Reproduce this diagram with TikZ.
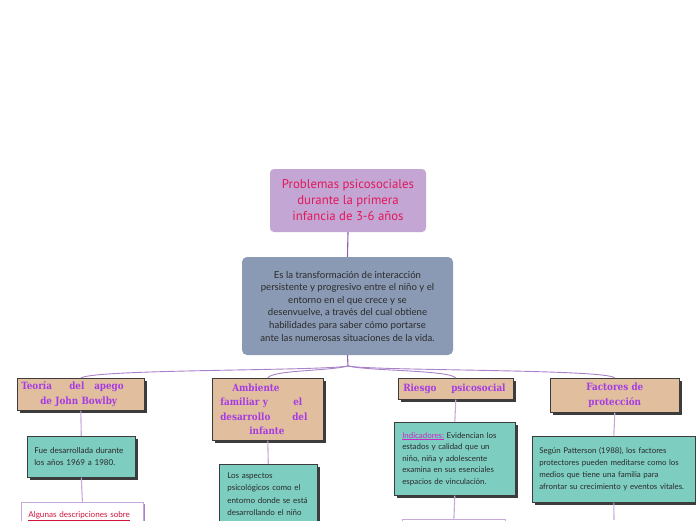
\documentclass[tikz,border=0pt]{standalone}
\usepackage{fontspec}
\setmainfont{Lato}
\newfontfamily\titlefont{PT Sans}
\newfontfamily\headfont[FakeStretch=0.88]{DejaVu Serif}
\usetikzlibrary{shadows}
\definecolor{titlefill}{HTML}{C3A6D3}
\definecolor{titletext}{HTML}{E2175C}
\definecolor{centralfill}{HTML}{8A9AB4}
\definecolor{textdark}{HTML}{2A2A2A}
\definecolor{headfill}{HTML}{E0BE9E}
\definecolor{headtext}{HTML}{A63BE3}
\definecolor{greenfill}{HTML}{7DCDC0}
\definecolor{shadowc}{HTML}{3C3C3C}
\definecolor{topline}{HTML}{9060B8}
\definecolor{curveline}{HTML}{A982CA}
\definecolor{lilacline}{HTML}{C7A8DA}
\definecolor{redtext}{HTML}{D0143C}
\definecolor{magtext}{HTML}{C62BC8}
\begin{document}
\begin{tikzpicture}[x=1pt,y=-1pt,
  titlebox/.style={rounded corners=4pt, fill=titlefill, minimum width=156pt, minimum height=63pt,
    align=center, text=titletext, font=\titlefont\fontsize{12.8}{16}\selectfont},
  centralbox/.style={rounded corners=5pt, fill=centralfill, minimum width=211pt, minimum height=98pt,
    align=center, text=textdark, font=\fontsize{9.6}{12.6}\selectfont},
  headbox/.style={anchor=north west, draw=shadowc, line width=0.6pt, fill=headfill,
    drop shadow={shadow xshift=2.5pt, shadow yshift=-2.5pt, fill=shadowc, opacity=1},
    text=headtext, font=\headfont\bfseries\fontsize{10}{14.5}\selectfont, inner ysep=0pt},
  greenbox/.style={anchor=north west, draw=shadowc, line width=0.6pt, fill=greenfill,
    drop shadow={shadow xshift=2.5pt, shadow yshift=-2.5pt, fill=shadowc, opacity=1},
    text=textdark, align=left, inner ysep=0pt},
  whitebox/.style={anchor=north west, draw=lilacline, line width=0.8pt, fill=white,
    drop shadow={shadow xshift=1.5pt, shadow yshift=-1.5pt, fill=curveline, opacity=1}},
  topconn/.style={draw=topline, line width=1.1pt},
  curveconn/.style={draw=curveline, line width=0.9pt},
  vconn/.style={draw=lilacline, line width=1.1pt}
]
\useasboundingbox (0,0) rectangle (696,520);
\clip (0,0) rectangle (696,520);
\fill[white] (0,0) rectangle (696,520);

% title and central
\node[titlebox] (title) at (348,200.5) {Problemas psicosociales\\durante la primera\\infancia de 3-6 años};
\node[centralbox] (central) at (347.5,306) {Es la transformación de interacción\\persistente y progresivo entre el niño y el\\entorno en el que crece y se\\desenvuelve, a través del cual obtiene\\habilidades para saber cómo portarse\\ante las numerosas situaciones de la vida.};
\coordinate (J) at (348,366);

% headers
\node[headbox, minimum width=127pt, minimum height=32pt, text width=119pt, inner xsep=4pt, align=left] (h1) at (17,378)
  {\makebox[48pt][l]{Teoría}\makebox[25pt][l]{del}apego\\\hspace*{19pt}de John Bowlby};
\node[headbox, minimum width=111pt, minimum height=62pt, text width=95pt, inner xsep=8pt, align=left] (h2) at (212,378)
  {\hspace*{12pt}Ambiente\\\makebox[73pt][l]{familiar y}el\\\makebox[72pt][l]{desarrollo}del\\\hspace*{29pt}infante};
\node[headbox, minimum width=115pt, minimum height=21pt, text width=105pt, inner xsep=5pt, align=left] (h3) at (398,378)
  {\makebox[48pt][l]{Riesgo}psicosocial};
\node[headbox, minimum width=129pt, minimum height=34pt, text width=121pt, inner xsep=4pt, align=center] (h4) at (550,378)
  {Factores de\\protección};

% green boxes
\node[greenbox, minimum width=108pt, minimum height=41pt, text width=94pt, inner xsep=7pt,
  font=\fontsize{8.1}{12}\selectfont] (g1) at (27,436)
  {Fue desarrollada durante\\los años 1969 a 1980.};
\node[greenbox, minimum width=98pt, text width=86pt, inner xsep=6pt, inner ysep=8pt,
  font=\fontsize{8}{12.6}\selectfont] (g2) at (219,464)
  {\hspace*{2pt}Los aspectos\\\hspace*{2pt}psicológicos como el\\\hspace*{2pt}entorno donde se está\\\hspace*{2pt}desarrollando el niño};
\node[greenbox, minimum width=121pt, minimum height=73pt, text width=107pt, inner xsep=7pt,
  font=\fontsize{7.9}{11.5}\selectfont] (g3) at (394,422)
  {\hspace*{1pt}{\color{magtext}\underline{Indicadores:}} Evidencian los\\\hspace*{1pt}estados y calidad que un\\\hspace*{1pt}niño, niña y adolescente\\\hspace*{1pt}examina en sus esenciales\\\hspace*{1pt}espacios de vinculación.};
\node[greenbox, minimum width=163pt, minimum height=66pt, text width=151pt, inner xsep=6pt,
  font=\fontsize{7.9}{12}\selectfont] (g4) at (532,436)
  {\hspace*{1pt}Según Patterson (1988), los factores\\\hspace*{1pt}protectores pueden meditarse como los\\\hspace*{1pt}medios que tiene una familia para\\\hspace*{1pt}afrontar su crecimiento y eventos vitales.};

% white boxes (cut at bottom)
\node[whitebox, minimum width=122pt, text width=110pt, inner xsep=6pt, inner ysep=9pt, align=left,
  font=\fontsize{8.1}{12}\selectfont, text=redtext] (w1) at (21,502)
  {\hspace*{1pt}\underline{Algunas descripciones sobre}\\ \ };
\node[whitebox, minimum width=103pt, minimum height=30pt] (b3) at (402,519) {};
\coordinate (e4) at (614,520);

% connectors
\draw[topconn] (title.south) -- (central.north);
\draw[topconn] (central.south) -- (J);
\draw[curveconn] (J) .. controls (320,371) and (95,369) .. (h1.north);
\draw[curveconn] (J) .. controls (330,371) and (272,370) .. (h2.north);
\draw[curveconn] (J) .. controls (368,371) and (450,370) .. (h3.north);
\draw[curveconn] (J) .. controls (376,371) and (608,369) .. (h4.north);
\draw[vconn] (h1.south) -- (g1.north);
\draw[vconn] (g1.south) -- (w1.north);
\draw[vconn] (h2.south) -- (g2.north);
\draw[vconn] (h3.south) -- (g3.north);
\draw[vconn] (g3.south) -- (b3.north);
\draw[vconn] (h4.south) -- (g4.north);
\draw[vconn] (g4.south) -- (e4);
\end{tikzpicture}
\end{document}
